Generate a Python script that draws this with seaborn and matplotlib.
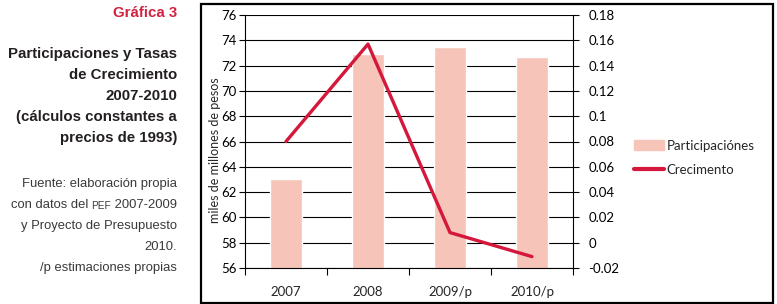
import numpy as np
import pandas as pd
import matplotlib.pyplot as plt
import matplotlib.patches as mpatches
from matplotlib.lines import Line2D
from matplotlib.ticker import MultipleLocator, FuncFormatter
import seaborn as sns

# Datos
years = ['2007', '2008', '2009/p', '2010/p']
participaciones = [63.0, 72.9, 73.5, 72.7]   # miles de millones de pesos
crecimiento = [0.080, 0.157, 0.008, -0.011]   # tasa de crecimiento

bar_color = '#F6C4B9'
line_color = '#D4173A'
W, H = 777, 304

sns.set_style('ticks')
plt.rcParams['font.family'] = ['Lato', 'DejaVu Sans']

df = pd.DataFrame({'anio': years, 'part': participaciones, 'crec': crecimiento})

fig = plt.figure(figsize=(W / 100, H / 100), dpi=100)
ax = fig.add_axes([245 / W, 1 - 268 / H, (573 - 245) / W, (268 - 15) / H])

# Barras (eje izquierdo)
sns.barplot(data=df, x='anio', y='part', color=bar_color, width=0.4,
            saturation=1, ax=ax, zorder=2)

# Linea de crecimiento (eje derecho)
ax2 = ax.twinx()
sns.pointplot(data=df, x='anio', y='crec', color=line_color, markers='',
              linestyles='-', errorbar=None, linewidth=2.4, ax=ax2)

# Eje izquierdo
ax.set_ylim(56, 76)
ax.yaxis.set_major_locator(MultipleLocator(2))
ax.grid(axis='y', color='black', lw=0.8)
ax.set_axisbelow(True)
ax.set_ylabel('miles de millones de pesos', fontsize=9)
ax.yaxis.set_label_coords(-0.073, 0.466)
ax.tick_params(axis='y', length=4.5, width=0.8, pad=1.5, labelsize=9.5, colors='black')

# Eje derecho
ax2.set_ylim(-0.02, 0.18)
ax2.yaxis.set_major_locator(MultipleLocator(0.02))
ax2.yaxis.set_major_formatter(FuncFormatter(lambda v, p: f'{round(v, 2):g}'))
ax2.set_ylabel('')
ax2.tick_params(axis='y', length=4, width=0.8, pad=7, labelsize=9.5, colors='black')

# Eje x: marcas entre categorias, etiquetas centradas
ax.set_xlim(-0.5, len(years) - 0.5)
ax.set_xticks(np.arange(-0.5, len(years)), labels=[])
ax.set_xticks(range(len(years)), labels=years, minor=True)
ax.tick_params(axis='x', which='major', length=5, width=0.8, colors='black')
ax.tick_params(axis='x', which='minor', length=0, pad=13, labelsize=9.5)
ax.set_xlabel('')
ax2.set_xlabel('')

for a in (ax, ax2):
    for s in a.spines.values():
        s.set_visible(False)
        s.set_color('black')
        s.set_linewidth(0.8)
ax.spines['left'].set_visible(True)
ax.spines['bottom'].set_visible(True)
ax2.spines['right'].set_visible(True)

# Leyenda
handles = [mpatches.Patch(color=bar_color, label='Participaciónes'),
           Line2D([], [], color=line_color, lw=3, label='Crecimento')]
fig.legend(handles=handles, loc='center left', bbox_to_anchor=(634 / W, 1 - 158 / H),
           frameon=False, fontsize=9.5, handlelength=2.3, handleheight=0.8,
           handletextpad=0.15, labelspacing=0.95, borderpad=0, borderaxespad=0)

# Marco de la grafica
fig.add_artist(mpatches.Rectangle((201 / W, 1.5 / H), 572 / W, 299 / H,
                                  transform=fig.transFigure, fill=False,
                                  lw=1.6, ec='black'))

# Texto lateral
def side_text(y, s, **kw):
    return fig.text(177 / W, 1 - y / H, s, ha='right', va='baseline', **kw)

side_text(17, 'Gráfica 3', family='Liberation Sans', weight='bold',
          fontsize=10.8, color='#D2213F')
bold = dict(family='Liberation Sans', weight='bold', fontsize=10.8, color='#231F20')
for y, s in zip([58, 79, 100, 121, 142],
                ['Participaciones y Tasas', 'de Crecimiento', '2007-2010',
                 '(cálculos constantes a', 'precios de 1993)']):
    side_text(y, s, **bold)

light = dict(family='Liberation Sans', fontsize=9.4, color='#3A3A3A')
side_text(187, 'Fuente: elaboración propia', **light)
t = side_text(208, ' 2007-2009', **light)
pef = ax.annotate('PEF', xy=(0, 0), xycoords=t, ha='right', va='bottom',
                  annotation_clip=False, family='Liberation Sans',
                  fontsize=7.2, color='#3A3A3A')
ax.annotate('con datos del', xy=(0, 0), xycoords=pef, xytext=(-2.5, 0),
            textcoords='offset points', ha='right', va='bottom',
            annotation_clip=False, **light)
side_text(229, 'y Proyecto de Presupuesto', **light)
side_text(250, '2010.', **light)
side_text(271, '/p estimaciones propias', **light)

fig.savefig('out.png', dpi=100)
